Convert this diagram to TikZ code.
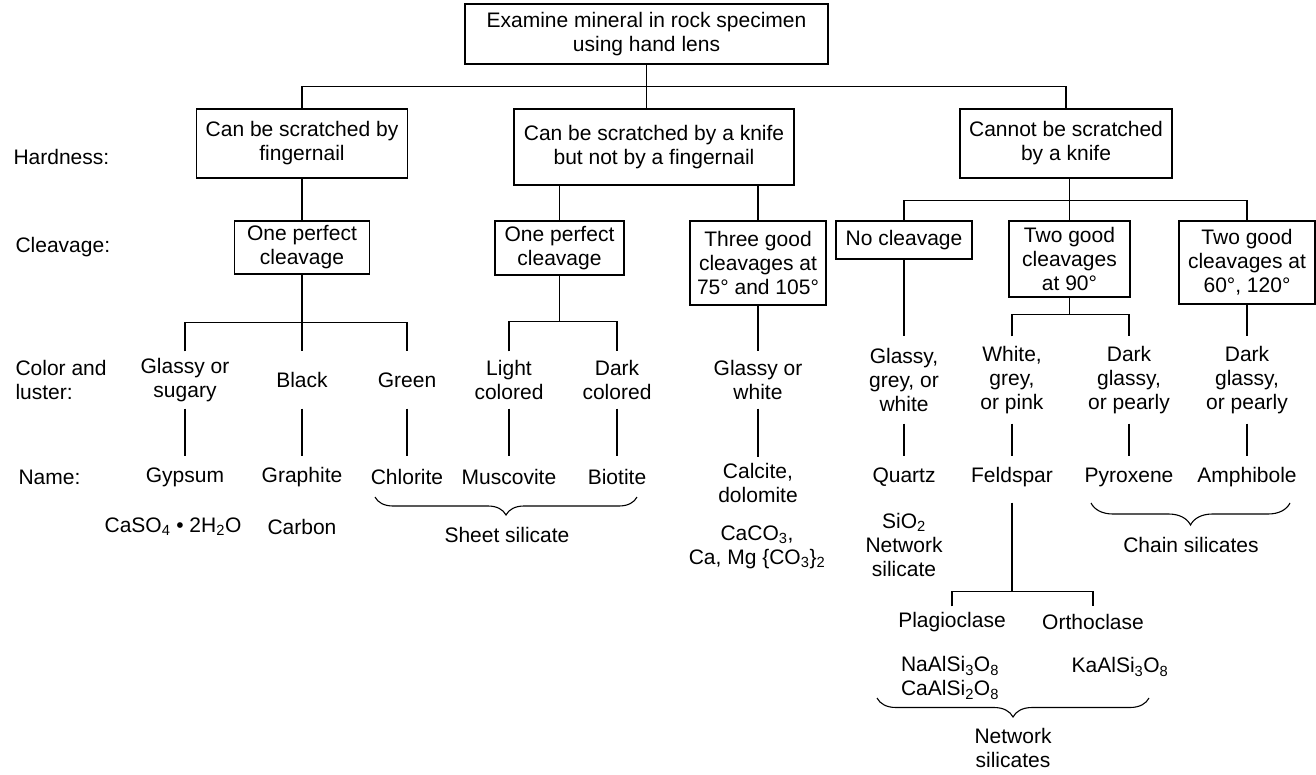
\documentclass[tikz,border=0pt]{standalone}
\usepackage{fontspec}
\setmainfont{Liberation Sans}
\usetikzlibrary{decorations.pathreplacing}
\tikzset{
x=1pt, y=-1pt, % one unit is one pixel, y grows downwards
every node/.style={font=\fontsize{21}{24}\selectfont, align=center, inner sep=0pt},
box/.style={draw}, % the question boxes
luster/.style={minimum height=56pt}, % two line color and luster texts
lusterthree/.style={minimum height=86pt}, % three line ones
mineral/.style={minimum height=40pt}, % mineral names
sbrace/.style={decorate, decoration={brace, mirror, amplitude=#1}}, % braces under a group
}

\begin{document}
\begin{tikzpicture}[line width=1.1pt]
    \useasboundingbox (0,0) rectangle (1316,774);
    % row labels
    \node[anchor=west] (lhard) at (13,157) {Hardness:};
    \node[anchor=west] (lcleav) at (15,247) {Cleavage:};
    \node[anchor=west, align=left] (lcolor) at (15,380) {Color and\\luster:};
    \node[anchor=west] (lname) at (18,477) {Name:};
    % hardness
    \node[box, minimum width=363pt, minimum height=60pt] (exam) at (646.5,34) {Examine mineral in rock specimen\\using hand lens};
    \node[box, minimum width=211pt, minimum height=69pt] (hfinger) at (302,143.5) {Can be scratched by\\fingernail};
    \node[box, minimum width=280pt, minimum height=76pt] (hknife) at (654,147) {Can be scratched by a knife\\but not by a fingernail};
    \node[box, minimum width=212pt, minimum height=69pt] (hnot) at (1066,143.5) {Cannot be scratched\\by a knife};
    % cleavage
    \node[box, minimum width=135pt, minimum height=53pt] (onea) at (302,247.5) {One perfect\\cleavage};
    \node[box, minimum width=129pt, minimum height=54pt] (oneb) at (559.5,248) {One perfect\\cleavage};
    \node[box, minimum width=136pt, minimum height=84pt] (three) at (758,263) {Three good\\cleavages at\\75° and 105°};
    \node[box, minimum width=136pt, minimum height=38pt] (nocl) at (904,240) {No cleavage};
    \node[box, minimum width=121pt, minimum height=76pt] (twoa) at (1069.5,259) {Two good\\cleavages\\at 90°};
    \node[box, minimum width=136pt, minimum height=83pt] (twob) at (1247,262.5) {Two good\\cleavages at\\60°, 120°};
    % color and luster
    \node[luster] (glassya) at (185,380) {Glassy or\\sugary};
    \node[luster] (black) at (302,380) {Black};
    \node[luster] (green) at (407,380) {Green};
    \node[luster] (light) at (509,380) {Light\\colored};
    \node[luster] (dark) at (617,380) {Dark\\colored};
    \node[luster] (glassyb) at (758,380) {Glassy or\\white};
    \node[lusterthree] (ggw) at (904,380) {Glassy,\\grey, or\\white};
    \node[lusterthree] (wgp) at (1012,380) {White,\\grey,\\or pink};
    \node[lusterthree] (dgpa) at (1129,380) {Dark\\glassy,\\or pearly};
    \node[lusterthree] (dgpb) at (1247,380) {Dark\\glassy,\\or pearly};
    % names
    \node[mineral] (gypsum) at (185,477) {Gypsum};
    \node[mineral] (graphite) at (302,477) {Graphite};
    \node[mineral] (chlorite) at (407,477) {Chlorite};
    \node[mineral] (muscovite) at (509,477) {Muscovite};
    \node[mineral] (biotite) at (617,477) {Biotite};
    \node[minimum height=50pt] (calcite) at (758,483) {Calcite,\\dolomite};
    \node[mineral] (quartz) at (904,477) {Quartz};
    \node[mineral] (feldspar) at (1012,477) {Feldspar};
    \node[mineral] (pyroxene) at (1129,477) {Pyroxene};
    \node[mineral] (amphibole) at (1247,477) {Amphibole};
    % formulas and groups
    \node (gypf) at (173,527) {CaSO\textsubscript{4} • 2H\textsubscript{2}O};
    \node (carbon) at (302,527) {Carbon};
    \node (calcf) at (757,547) {CaCO\textsubscript{3},\\Ca, Mg \{CO\textsubscript{3}\}\textsubscript{2}};
    \node (quartzf) at (904,545) {SiO\textsubscript{2}\\Network\\silicate};
    \node[minimum height=30pt] (plagio) at (952,622) {Plagioclase};
    \node[minimum height=30pt] (ortho) at (1093,622) {Orthoclase};
    \node (plagf) at (950,678) {NaAlSi\textsubscript{3}O\textsubscript{8}\\CaAlSi\textsubscript{2}O\textsubscript{8}};
    \node (orthof) at (1120,667) {KaAlSi\textsubscript{3}O\textsubscript{8}};
    \node (sheet) at (507,535) {Sheet silicate};
    \node (chain) at (1191,545) {Chain silicates};
    \node (network) at (1013,748) {Network\\silicates};
    \coordinate (sheetl) at (375,497);
    \coordinate (sheetr) at (637,497);
    \coordinate (chainl) at (1091,503);
    \coordinate (chainr) at (1290,503);
    \coordinate (netl) at (877,698);
    \coordinate (netr) at (1149,698);

    % tree
    \draw (exam.south) -- (exam.south |- hknife.north);
    \draw (hfinger.north) -- ++(0,-22) coordinate (hfork) -| (hnot.north);
    \draw (hfinger) edge (onea)
    (hknife.south -| oneb.north) edge (oneb.north)
    (hknife.south -| three.north) edge (three.north)
    (hnot.south -| twoa.north) edge (twoa.north);
    \draw (nocl.north) -- ++(0,-20) coordinate (cfork) -| (twob.north);
    \draw (onea.south) -- (black.north);
    \draw (glassya.north) -- ++(0,-29) coordinate (afork) -| (green.north);
    \draw (light.north) -- ++(0,-30) coordinate (bfork) -| (dark.north);
    \draw (oneb.south) -- (oneb.south |- bfork);
    \draw (wgp.north) -- ++(0,-22) coordinate (dfork) -| (dgpa.north);
    \draw (twoa.south) -- (twoa.south |- dfork);
    \draw (three) edge (glassyb)
    (nocl) edge (ggw)
    (twob) edge (dgpb);
    \draw (glassya) edge (gypsum)
    (black) edge (graphite)
    (green) edge (chlorite)
    (light) edge (muscovite)
    (dark) edge (biotite)
    (glassyb) edge (calcite)
    (ggw) edge (quartz)
    (wgp) edge (feldspar)
    (dgpa) edge (pyroxene)
    (dgpb) edge (amphibole);
    \draw ([yshift=-5pt]feldspar.south) -- ++(0,89) coordinate (ffork);
    \draw (plagio.north) |- (ffork) -| (ortho.north);
    % braces
    \draw[sbrace=18pt] (sheetl) -- (sheetr);
    \draw[sbrace=22pt] (chainl) -- (chainr);
    \draw[sbrace=19pt] (netl) -- (netr);
  \end{tikzpicture}
\end{document}
